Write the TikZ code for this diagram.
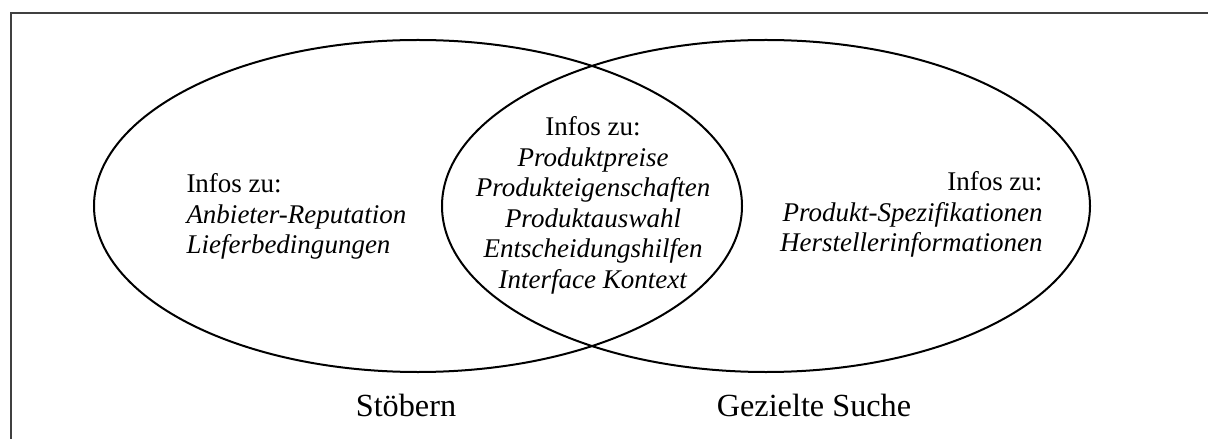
\documentclass[tikz,border=0pt]{standalone}
\usepackage{fontspec}
\setmainfont{Liberation Serif}
\usetikzlibrary{shapes.geometric}
\begin{document}
\begin{tikzpicture}[x=0.4pt, y=-0.4pt,
  set/.style={shape=ellipse, draw=black, thick, inner sep=0pt, minimum width=259.2pt, minimum height=132.8pt},
  info/.style={inner sep=0pt, font=\fontsize{10.8}{12.2}\selectfont},
  title/.style={inner sep=0pt, font=\fontsize{12.9}{14}\selectfont}]
\useasboundingbox (0,0) rectangle (1208,439);
\draw[line width=1pt, draw=black!75] (11,480) |- (1240,13);
% the two sets
\node[set] (browse) at (418,206) {};
\node[set] (search) at (766,206) {};
% infos
\node[info, anchor=north west, align=left] (browseinfo) at (186,173) {Infos zu:\\\textit{Anbieter-Reputation}\\\textit{Lieferbedingungen}};
\node[info, anchor=north, align=center] (bothinfo) at (593,116) {Infos zu:\\\textit{Produktpreise}\\\textit{Produkteigenschaften}\\\textit{Produktauswahl}\\\textit{Entscheidungshilfen}\\\textit{Interface Kontext}};
\node[info, anchor=north east, align=right] (searchinfo) at (1043,171) {Infos zu:\\\textit{Produkt-Spezifikationen}\\\textit{Herstellerinformationen}};
% labels
\node[title, anchor=base] (browselabel) at (406,416) {Stöbern};
\node[title, anchor=base] (searchlabel) at (814,416) {Gezielte Suche};
\end{tikzpicture}
\end{document}
